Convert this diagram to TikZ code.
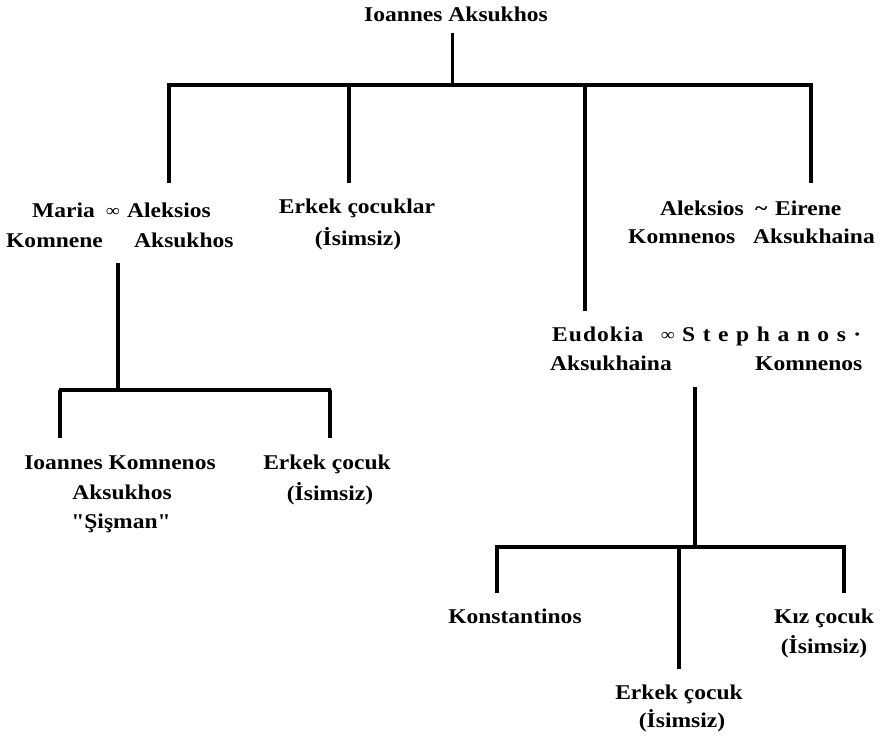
\documentclass[tikz,border=0pt]{standalone}
\usepackage{fontspec}
\setmainfont{Liberation Serif}[FakeStretch=1.12, Ligatures=TeXOff]

\begin{document}
\begin{tikzpicture}[x=1pt,y=-1pt,
    person/.style={font=\bfseries\fontsize{21}{24}\selectfont, inner sep=0pt, anchor=base},
    left/.style={person, anchor=base west},
    marr/.style={left, font=\bfseries\fontsize{17}{18}\selectfont},
    line/.style={line width=3.8pt},
    thinline/.style={line width=3pt}]
\useasboundingbox (0,0) rectangle (888,736);

% first generation
\node[person] (ioannes) at (456,21) {Ioannes Aksukhos};
\coordinate (rootUp) at (452,33);
\coordinate (barL) at (167,85);
\coordinate (barR) at (813,85);

% second generation
\node[left] (maria) at (32,217) {Maria};
\node[marr] (marr1) at (106,216) {∞};
\node[left] (aleksiosA) at (127,217) {Aleksios};
\node[left] (komnene) at (6,247) {Komnene};
\node[left] (aksukhosA) at (134,247) {Aksukhos};

\node[person] (erkekler) at (357,213) {Erkek çocuklar};
\node[person] (isimsiz1) at (358,245) {(İsimsiz)};

\node[left] (aleksiosK) at (660,215) {Aleksios};
\node[left] (marr2) at (755,215) {\textasciitilde};
\node[left] (eirene) at (775,215) {Eirene};
\node[left] (komnenos1) at (628,243) {Komnenos};
\node[left] (aksukhaina1) at (753,243) {Aksukhaina};

\node[left] (eudokia) at (552,341) {\addfontfeature{LetterSpace=5}Eudokia};
\node[marr] (marr3) at (661,340) {∞};
\node[left] (stephanos) at (682,341) {\addfontfeature{LetterSpace=36}Stephanos·};
\node[left] (aksukhaina2) at (550,370) {Aksukhaina};
\node[left] (komnenos2) at (755,370) {Komnenos};

\coordinate (mariaUp) at (169,183);
\coordinate (erkeklerUp) at (349,183);
\coordinate (eudokiaUp) at (585,311);
\coordinate (aleksiosUp) at (811,183);

% third generation, left
\coordinate (aleksiosDown) at (118,263);
\coordinate (bar2L) at (59,390);
\coordinate (bar2R) at (331,390);
\node[person] (ioannesK1) at (120,469) {Ioannes Komnenos};
\node[person] (ioannesK2) at (122,499) {Aksukhos};
\node[person] (ioannesK3) at (121,528) {"Şişman"};
\node[person] (erkek1) at (327,469) {Erkek çocuk};
\node[person] (isimsiz2) at (330,500) {(İsimsiz)};
\coordinate (ioannesKUp) at (60,438);
\coordinate (erkek1Up) at (330,438);

% third generation, right
\coordinate (stephanosDown) at (695,387);
\coordinate (bar3L) at (495,547);
\coordinate (bar3R) at (846,547);
\node[person] (konst) at (515,623) {Konstantinos};
\node[person] (kiz) at (824,623) {Kız çocuk};
\node[person] (isimsiz3) at (824,653) {(İsimsiz)};
\node[person] (erkek2) at (679,699) {Erkek çocuk};
\node[person] (isimsiz4) at (682,727) {(İsimsiz)};
\coordinate (konstUp) at (497,593);
\coordinate (erkek2Up) at (679,669);
\coordinate (kizUp) at (844,593);

% lines
\draw[thinline] (rootUp) -- (rootUp |- barL);
\draw[line] (barL) -- (barR);
\draw[line] (mariaUp |- barL) -- (mariaUp);
\draw[line] (erkeklerUp |- barL) -- (erkeklerUp);
\draw[line] (eudokiaUp |- barL) -- (eudokiaUp);
\draw[line] (aleksiosUp |- barL) -- (aleksiosUp);

\draw[line] (aleksiosDown) -- (aleksiosDown |- bar2L);
\draw[line] (bar2L) -- (bar2R);
\draw[line] (ioannesKUp |- bar2L) -- (ioannesKUp);
\draw[line] (erkek1Up |- bar2L) -- (erkek1Up);

\draw[line] (stephanosDown) -- (stephanosDown |- bar3L);
\draw[line] (bar3L) -- (bar3R);
\draw[line] (konstUp |- bar3L) -- (konstUp);
\draw[line] (erkek2Up |- bar3L) -- (erkek2Up);
\draw[line] (kizUp |- bar3L) -- (kizUp);
\end{tikzpicture}
\end{document}
